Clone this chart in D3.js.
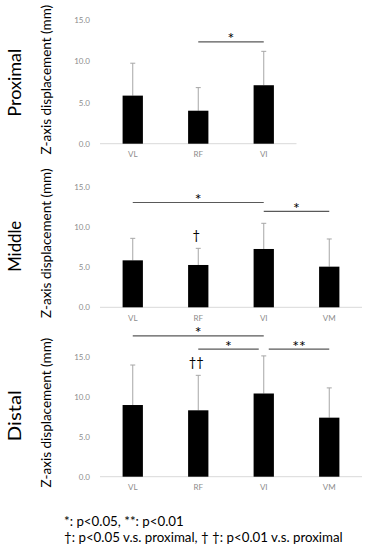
<!DOCTYPE html>
<html>
<head>
<meta charset="utf-8">
<script src="https://cdn.jsdelivr.net/npm/d3@7"></script>
<style>
body{margin:0;background:#fff;}
svg{font-family:Lato,"Open Sans",sans-serif;}
</style>
</head>
<body>
<svg class="chart" width="367" height="550"></svg>
<script>
// values (mm)
var panelNames = ["Proximal", "Middle", "Distal"];
var proxCats = ["VL", "RF", "VI"];
var proxMean = [5.83, 4.0, 7.09];
var proxSD = [3.93, 2.8, 4.11];
var midCats = ["VL", "RF", "VI", "VM"];
var midMean = [5.87, 5.29, 7.29, 5.08];
var midSD = [2.75, 2.08, 3.21, 3.46];
var distCats = ["VL", "RF", "VI", "VM"];
var distMean = [8.96, 8.3, 10.4, 7.38];
var distSD = [5.0, 4.37, 4.7, 3.72];
var yTicks = [0, 5, 10, 15];
// significance brackets: [from, to, level (mm), label]
var proxSig = [["RF", "VI", 12.34, "*"]];
var midSig = [["VL", "VI", 13.1, "*"], ["VI", "VM", 12.0, "*"]];
var distSig = [["VL", "VI", 17.6, "*"], ["RF", "VI", 15.95, "*"], ["VI", "VM", 15.95, "**"]];
// vs proximal marks
var proxDag = [];
var midDag = [["RF", "\u2020"]];
var distDag = [["RF", "\u2020\u2020"]];
var notes = ["*: p<0.05, **: p<0.01", "\u2020: p<0.05 v.s. proximal, \u2020 \u2020: p<0.01 v.s. proximal"];

var svg = d3.select(".chart");
var left = 100, step = 65.5;

var panels = [
	{name: panelNames[0], cats: proxCats, mean: proxMean, sd: proxSD, sig: proxSig, dag: proxDag, y0: 143.7, y1: 20},
	{name: panelNames[1], cats: midCats, mean: midMean, sd: midSD, sig: midSig, dag: midDag, y0: 307.3, y1: 187.3},
	{name: panelNames[2], cats: distCats, mean: distMean, sd: distSD, sig: distSig, dag: distDag, y0: 476.7, y1: 356.7}
];

panels.forEach(function(p){
	var g = svg.append("g").attr("class", "panel");

	var x = d3.scaleBand()
		.domain(p.cats)
		.range([left, left + step * p.cats.length])
		.paddingInner(0.69)
		.paddingOuter(0.345);
	var y = d3.scaleLinear().domain([0, 15]).range([p.y0, p.y1]);
	var cx = function(c){ return x(c) + x.bandwidth() / 2; };

	// y axis labels only
	var ya = g.append("g")
		.attr("transform", "translate(" + left + ",0)")
		.call(d3.axisLeft(y).tickValues(yTicks).tickFormat(d3.format(".1f")).tickSize(0).tickPadding(10));
	ya.select(".domain").remove();
	ya.selectAll("text").attr("fill", "#8c8c8c").style("font-size", "8px").style("font-family", "Lato,sans-serif");

	// x axis
	var xa = g.append("g")
		.attr("transform", "translate(0," + p.y0 + ")")
		.call(d3.axisBottom(x).tickSize(0).tickPadding(8));
	xa.select(".domain").attr("stroke", "#d9d9d9").attr("d", "M" + left + ",0H" + (left + step * p.cats.length));
	xa.selectAll("text").attr("fill", "#8c8c8c").style("font-size", "8px").style("font-family", "Lato,sans-serif");

	var rows = p.cats.map(function(c, i){ return {cat: c, m: p.mean[i], s: p.sd[i]}; });

	// error bars (upper only)
	g.selectAll(".err").data(rows).enter().append("line")
		.attr("class", "err")
		.attr("x1", function(d){ return cx(d.cat); })
		.attr("x2", function(d){ return cx(d.cat); })
		.attr("y1", function(d){ return y(d.m); })
		.attr("y2", function(d){ return y(d.m + d.s); })
		.attr("stroke", "#a6a6a6").attr("stroke-width", 1);
	g.selectAll(".cap").data(rows).enter().append("line")
		.attr("class", "cap")
		.attr("x1", function(d){ return cx(d.cat) - 2.5; })
		.attr("x2", function(d){ return cx(d.cat) + 2.5; })
		.attr("y1", function(d){ return y(d.m + d.s); })
		.attr("y2", function(d){ return y(d.m + d.s); })
		.attr("stroke", "#a6a6a6").attr("stroke-width", 1);

	g.selectAll(".bar").data(rows).enter().append("rect")
		.attr("class", "bar")
		.attr("x", function(d){ return x(d.cat); })
		.attr("width", x.bandwidth())
		.attr("y", function(d){ return y(d.m); })
		.attr("height", function(d){ return p.y0 - y(d.m); })
		.attr("fill", "#000");

	// brackets
	p.sig.forEach(function(s){
		var x1 = cx(s[0]), x2 = cx(s[1]);
		//shorten where two brackets at the same level meet
		p.sig.forEach(function(o){
			if(o !== s && o[2] === s[2]){
				if(o[0] === s[1]) x2 -= 5;
				if(o[1] === s[0]) x1 += 5;
			}
		});
		g.append("line")
			.attr("x1", x1).attr("x2", x2)
			.attr("y1", y(s[2])).attr("y2", y(s[2]))
			.attr("stroke", "#595959").attr("stroke-width", 1.2);
		g.append("text")
			.attr("x", (x1 + x2) / 2)
			.attr("y", y(s[2]) + 2.5)
			.attr("text-anchor", "middle")
			.attr("fill", "#000")
			.style("font-size", "16px")
			.text(s[3]);
	});

	p.dag.forEach(function(dg){
		var i = p.cats.indexOf(dg[0]);
		g.append("text")
			.attr("x", cx(dg[0]) - 2)
			.attr("y", y(p.mean[i] + p.sd[i]) - 8)
			.attr("text-anchor", "middle")
			.attr("fill", "#000")
			.style("font-size", "13px")
			.text(dg[1]);
	});

	// titles
	g.append("text")
		.attr("transform", "translate(51," + (p.y0 - 64) + ") rotate(-90)")
		.attr("text-anchor", "middle")
		.attr("fill", "#000")
		.style("font-size", "13.5px")
		.text("Z-axis displacement (mm)");
	g.append("text")
		.attr("transform", "translate(20.5," + (p.y0 - 61) + ") rotate(-90)")
		.attr("text-anchor", "middle")
		.attr("fill", "#000")
		.attr("textLength", p.name.length * 8.5)
		.attr("lengthAdjust", "spacingAndGlyphs")
		.style("font-size", "17.5px")
		.text(p.name);
});

svg.selectAll(".note").data(notes).enter().append("text")
	.attr("class", "note")
	.attr("x", 64)
	.attr("y", function(d, i){ return 526 + i * 16; })
	.attr("fill", "#000")
	.style("font-size", "13.3px")
	.text(function(d){ return d; });
</script>
</body>
</html>
